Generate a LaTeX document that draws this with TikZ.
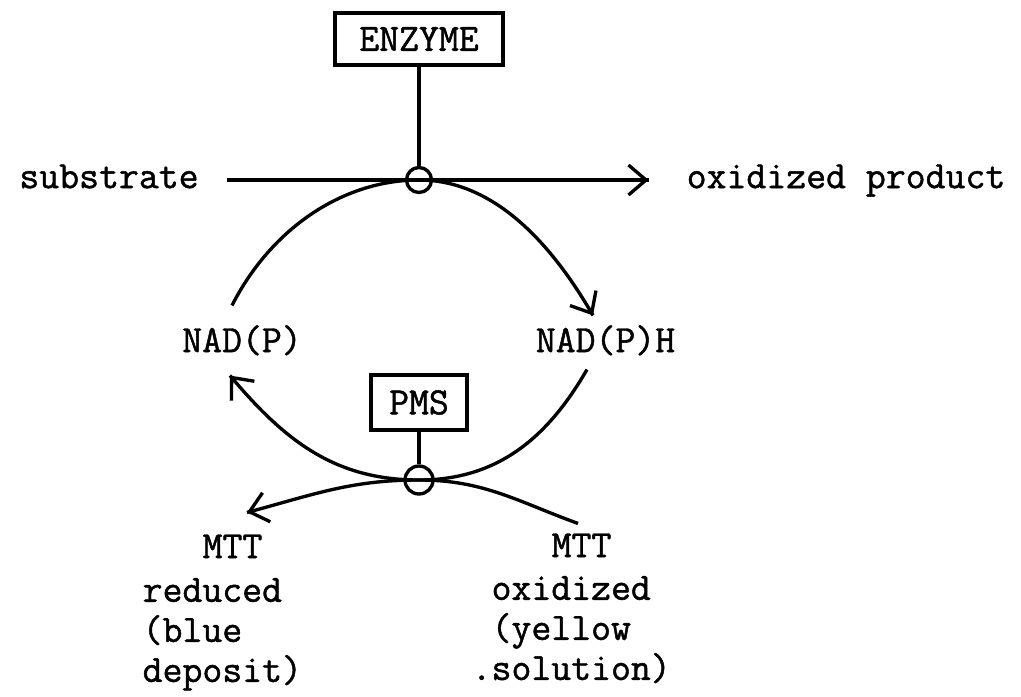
\documentclass[tikz,border=0pt]{standalone}
\usepackage{fontspec}
\newfontfamily\typer{Latin Modern Mono}[FakeBold=1.2]
\usetikzlibrary{arrows.meta}
\usetikzlibrary{decorations.markings}
\tikzset{->/.style = {decoration={markings,
                                  mark=at position 1 with {\arrow{Straight Barb[length=3.5mm, width=6mm]}}},
                      postaction={decorate}}}
\tikzset{txt/.style = {font=\typer\fontsize{22}{22.8}\selectfont,
                       text height=0.48cm, text depth=0.155cm,
                       inner xsep=0.25cm, inner ysep=0.28cm},
         note/.style = {font=\typer\fontsize{22}{22.8}\selectfont,
                        align=left, inner sep=0, anchor=north west},
         box/.style = {draw, font=\typer\fontsize{22}{22.8}\selectfont, inner sep=0},
         site/.style = {draw, circle, inner sep=0, minimum size=0.5cm}}

\begin{document}
\begin{tikzpicture}[line width=1.9pt]
      \useasboundingbox (-8.38, 3.6) rectangle (12.04, -10.32);

      \node [box, minimum width=3.36cm, minimum height=1.04cm] (enzyme) at (0, 2.82) {ENZYME};
      \node [site] (esite) at (0, 0) {};
      \node [txt, inner xsep=0.53cm] (substrate) at (-6.2, 0) {substrate};
      \node [txt, inner xsep=0.73cm] (product) at (8.54, 0) {oxidized product};

      \node [txt] (nadp) at (-3.54, -3.28) {NAD(P)};
      \node [txt] (nadph) at (3.73, -3.28) {NAD(P)H};

      \node [box, minimum width=1.92cm, minimum height=1.1cm] (pms) at (0, -4.45) {PMS};
      \node [site, minimum size=0.56cm] (psite) at (0, -6) {};

      \node [txt] (mttred) at (-3.73, -7.4) {MTT};
      \node [note] (redtext) at (-5.56, -7.93) {reduced\\(blue\\deposit)};
      \node [txt] (mttox) at (3.25, -7.38) {MTT};
      \node [note] (oxtext) at (1.02, -7.89) {\phantom{.}oxidized\\\phantom{.}(yellow\\.solution)};

      \draw (enzyme) -- (esite);
      \draw [->] (substrate) -- (product);
      \draw [->] ([shift={(-0.2,0.14)}]nadp.north) to [out=63, in=180, in looseness=0.85] (esite.center)
                 to [out=0, in=120, out looseness=0.85] ([shift={(-0.25,-0.06)}]nadph.north);

      \draw (pms) -- (psite);
      \draw [->] ([shift={(-0.37,0.12)}]nadph.south) to [out=240, in=0] (psite.center)
                 to [out=180, in=310] ([xshift=-0.24cm]nadp.south);
      \draw [->] ([shift={(-0.07,-0.12)}]mttox.north) to [out=160, in=0] (psite.center)
                 to [out=180, in=15] ([shift={(0.29,0.12)}]mttred.north);
    \end{tikzpicture}
\end{document}
